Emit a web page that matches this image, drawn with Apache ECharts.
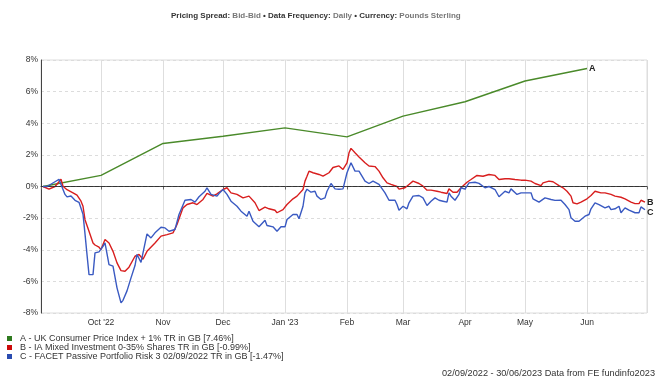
<!DOCTYPE html>
<html><head><meta charset="utf-8">
<script src="https://cdn.jsdelivr.net/npm/echarts@6/dist/echarts.min.js"></script>
<style>html,body{margin:0;padding:0;background:#fff}#c{width:660px;height:379px}</style>
</head><body><div id="c"></div>
<script>
const FONT = 'Liberation Sans, Arial, sans-serif';

const seriesNames = [
  'A - UK Consumer Price Index + 1% TR in GB [7.46%]',
  'B - IA Mixed Investment 0-35% Shares TR in GB [-0.99%]',
  'C - FACET Passive Portfolio Risk 3 02/09/2022 TR in GB [-1.47%]'
];
const endTags = ['A', 'B', 'C'];
const monthNums = [9, 10, 11, 0, 1, 2, 3, 4, 5];
const monthTickLabels = ["Oct '22", 'Nov', 'Dec', "Jan '23", 'Feb', 'Mar', 'Apr', 'May', 'Jun'];

const greenDates = ['2022-09-02','2022-10-01','2022-11-01','2022-12-01','2023-01-01','2023-02-01','2023-03-01','2023-04-01','2023-05-01','2023-06-01'];
const greenValues = [0, 0.7, 2.72, 3.18, 3.71, 3.14, 4.45, 5.36, 6.67, 7.46];

const redDates = ['2022-09-02','2022-09-03','2022-09-05','2022-09-08','2022-09-10','2022-09-11','2022-09-12','2022-09-14','2022-09-17','2022-09-19','2022-09-21','2022-09-22','2022-09-23','2022-09-25','2022-09-27','2022-09-28','2022-09-30',
'2022-10-01','2022-10-03','2022-10-05','2022-10-07','2022-10-09','2022-10-11','2022-10-13','2022-10-15','2022-10-16','2022-10-18','2022-10-20','2022-10-22','2022-10-24','2022-10-28','2022-10-31',
'2022-11-03','2022-11-06','2022-11-08','2022-11-11','2022-11-13','2022-11-16','2022-11-18','2022-11-21','2022-11-23','2022-11-26','2022-11-28',
'2022-12-01','2022-12-03','2022-12-05','2022-12-08','2022-12-11','2022-12-14','2022-12-17','2022-12-19','2022-12-22','2022-12-24','2022-12-27','2022-12-28','2022-12-31',
'2023-01-02','2023-01-05','2023-01-07','2023-01-10','2023-01-11','2023-01-12','2023-01-13','2023-01-15','2023-01-18','2023-01-20','2023-01-23','2023-01-25','2023-01-28','2023-01-30',
'2023-02-01','2023-02-02','2023-02-03','2023-02-05','2023-02-07','2023-02-08','2023-02-10','2023-02-12','2023-02-15','2023-02-17','2023-02-19','2023-02-21','2023-02-23','2023-02-26','2023-02-27',
'2023-03-02','2023-03-04','2023-03-06','2023-03-09','2023-03-11','2023-03-13','2023-03-15','2023-03-18','2023-03-20','2023-03-23','2023-03-24','2023-03-26','2023-03-28','2023-03-30',
'2023-04-02','2023-04-04','2023-04-07','2023-04-10','2023-04-13','2023-04-16','2023-04-18','2023-04-21','2023-04-23','2023-04-26','2023-04-29',
'2023-05-01','2023-05-04','2023-05-06','2023-05-09','2023-05-10','2023-05-13','2023-05-15','2023-05-18','2023-05-20','2023-05-22','2023-05-24','2023-05-25','2023-05-27','2023-05-29','2023-05-30',
'2023-06-01','2023-06-03','2023-06-05','2023-06-08','2023-06-10','2023-06-13','2023-06-15','2023-06-18','2023-06-20','2023-06-23','2023-06-25','2023-06-27','2023-06-28','2023-06-30'];
const redValues = [0,-0.08,-0.17,0,0.3,0.46,0.02,-0.2,-0.4,-0.55,-0.93,-1.25,-2.1,-2.83,-3.57,-3.7,-3.84,
-3.99,-3.35,-3.57,-4.1,-4.83,-5.32,-5.36,-5.1,-5.04,-4.41,-4.3,-4.6,-4.1,-3.57,-3.14,
-3.04,-2.93,-2.4,-1.35,-1.14,-1.03,-1.14,-0.82,-0.44,-0.61,-0.46,
-0.19,-0.08,-0.4,-0.5,-0.72,-0.61,-1.03,-1.52,-1.31,-1.41,-1.5,-1.66,-1.46,
-1.14,-0.78,-0.61,-0.19,0.34,0.65,0.97,0.87,0.76,0.65,0.87,1.2,1.3,1.08,
1.5,2.13,2.41,2.13,1.87,1.87,1.5,1.3,1.26,0.97,0.55,0.23,0.13,0,-0.17,
-0.08,0.13,0.34,0.19,0.02,-0.23,-0.23,-0.3,-0.36,-0.44,-0.15,-0.36,-0.36,-0.08,
0.27,0.44,0.7,0.65,0.76,0.7,0.44,0.49,0.49,0.44,0.4,
0.4,0.34,0.19,0.06,0.23,0.34,0.3,0.06,-0.08,-0.3,-0.61,-1.03,-1.1,-0.99,-0.93,
-0.78,-0.57,-0.3,-0.4,-0.4,-0.5,-0.61,-0.68,-0.78,-0.99,-1.08,-1.08,-0.87,-0.99];

const blueDates = ['2022-09-02','2022-09-04','2022-09-08','2022-09-10','2022-09-11','2022-09-13','2022-09-14','2022-09-16','2022-09-18','2022-09-20','2022-09-22','2022-09-23','2022-09-24','2022-09-25','2022-09-27','2022-09-28','2022-09-30',
'2022-10-02','2022-10-03','2022-10-05','2022-10-07','2022-10-09','2022-10-11','2022-10-12','2022-10-14','2022-10-16','2022-10-18','2022-10-19','2022-10-21','2022-10-24','2022-10-26','2022-10-28','2022-10-31',
'2022-11-02','2022-11-04','2022-11-07','2022-11-09','2022-11-12','2022-11-13','2022-11-15','2022-11-17','2022-11-19','2022-11-22','2022-11-23','2022-11-25','2022-11-28','2022-11-29',
'2022-12-01','2022-12-03','2022-12-05','2022-12-08','2022-12-10','2022-12-13','2022-12-14','2022-12-16','2022-12-19','2022-12-22','2022-12-23','2022-12-26','2022-12-28','2022-12-30',
'2023-01-01','2023-01-02','2023-01-05','2023-01-07','2023-01-08','2023-01-10','2023-01-11','2023-01-12','2023-01-14','2023-01-16','2023-01-17','2023-01-19','2023-01-21','2023-01-22','2023-01-24','2023-01-26','2023-01-28','2023-01-30',
'2023-02-01','2023-02-03','2023-02-05','2023-02-07','2023-02-08','2023-02-10','2023-02-12','2023-02-14','2023-02-17','2023-02-18','2023-02-20','2023-02-22','2023-02-23','2023-02-25','2023-02-26','2023-02-27',
'2023-03-01','2023-03-03','2023-03-04','2023-03-06','2023-03-09','2023-03-11','2023-03-13','2023-03-15','2023-03-17','2023-03-19','2023-03-21','2023-03-23','2023-03-24','2023-03-25','2023-03-27','2023-03-29','2023-03-30',
'2023-04-01','2023-04-03','2023-04-06','2023-04-08','2023-04-11','2023-04-13','2023-04-16','2023-04-18','2023-04-21','2023-04-23','2023-04-24','2023-04-27','2023-04-29',
'2023-05-02','2023-05-04','2023-05-05','2023-05-08','2023-05-09','2023-05-11','2023-05-14','2023-05-16','2023-05-19','2023-05-21','2023-05-23','2023-05-24','2023-05-26','2023-05-28','2023-05-29','2023-05-31',
'2023-06-02','2023-06-03','2023-06-05','2023-06-07','2023-06-08','2023-06-10','2023-06-12','2023-06-13','2023-06-15','2023-06-17','2023-06-18','2023-06-20','2023-06-22','2023-06-23','2023-06-25','2023-06-27','2023-06-28','2023-06-30'];
const blueValues = [0,0,0.3,0.45,0.4,-0.5,-0.66,-0.6,-0.87,-1.0,-1.75,-3.0,-4.3,-5.57,-5.57,-4.2,-4.13,
-3.78,-3.57,-4.94,-5.04,-6.41,-7.36,-7.2,-6.6,-5.78,-5.0,-4.3,-4.8,-3.0,-3.25,-2.93,-2.58,
-2.62,-2.83,-2.72,-1.77,-0.87,-0.93,-0.82,-0.99,-0.65,-0.3,-0.08,-0.5,-0.61,-0.44,
-0.19,-0.5,-0.93,-1.25,-1.56,-1.88,-1.56,-2.2,-2.55,-2.13,-2.47,-2.55,-2.83,-2.55,
-2.55,-2.09,-1.77,-1.77,-2.04,-1.25,-0.4,-0.17,-0.36,-0.3,-0.61,-0.82,-0.72,-0.3,0.19,-0.15,-0.17,-0.15,
0.87,1.5,0.97,0.97,0.9,0.34,0.19,0.34,0.13,0.23,-0.4,-0.87,-0.93,-0.87,-1.14,-1.5,
-1.25,-1.41,-1.03,-0.61,-0.57,-0.72,-1.2,-0.93,-0.72,-0.87,-0.93,-0.99,-0.4,-0.61,-0.87,-0.5,-0.08,
-0.17,0.23,0.27,0.2,-0.08,0,-0.19,-0.65,-0.3,-0.4,-0.15,-0.5,-0.4,
-0.4,-0.4,-0.78,-0.99,-0.99,-0.72,-0.82,-0.88,-0.87,-1.14,-1.46,-1.98,-2.2,-2.2,-2.13,-1.88,
-1.77,-1.41,-1.03,-1.14,-1.25,-1.35,-1.25,-1.46,-1.41,-1.25,-1.66,-1.35,-1.5,-1.5,-1.66,-1.66,-1.29,-1.47];

const zip = (d, v) => d.map((x, i) => [x, v[i]]);
const colors = ['#4a8a2a', '#d81e1e', '#3a5ac2'];
const legendColors = ['#2f7a1f', '#cc0a0a', '#2a4cb0'];
const DAY = 86400000;

function endLabel(tag) {
  return { show: true, formatter: tag, fontFamily: FONT, fontSize: 9, fontWeight: 'bold', color: '#222', distance: 2 };
}

const chart = echarts.init(document.getElementById('c'), null, { renderer: 'canvas' });
chart.setOption({
  animation: false,
  backgroundColor: '#fff',
  textStyle: { fontFamily: FONT },
  title: {
    left: 166, top: 7,
    text: '{b|Pricing Spread:} {n|Bid-Bid} {b|\u2022} {b|Data Frequency:} {n|Daily} {b|\u2022} {b|Currency:} {n|Pounds Sterling}',
    textStyle: {
      fontSize: 8,
      rich: {
        b: { fontFamily: FONT, fontSize: 8, fontWeight: 'bold', color: '#333' },
        n: { fontFamily: FONT, fontSize: 8, color: '#777' }
      }
    }
  },
  grid: { left: 41, right: 13, top: 60, bottom: 66, show: true, borderColor: '#dcdcdc', borderWidth: 1 },
  legend: {
    orient: 'vertical', left: 7, top: 334, itemWidth: 5, itemHeight: 5, itemGap: 0,
    icon: 'rect', selectedMode: false, padding: 0,
    textStyle: { fontFamily: FONT, fontSize: 9, lineHeight: 9, color: '#333', padding: [0, 0, 0, 3] },
    data: seriesNames.map((n, i) => ({ name: n, itemStyle: { color: legendColors[i] } }))
  },
  xAxis: {
    type: 'time',
    min: '2022-09-01', max: '2023-07-01',
    minInterval: 28 * DAY, maxInterval: 31 * DAY,
    axisLine: { lineStyle: { color: '#444', width: 1 } },
    axisTick: { show: true, length: 3, lineStyle: { color: '#666' } },
    axisLabel: {
      fontFamily: FONT, fontSize: 8.5, color: '#333', margin: 5,
      showMinLabel: false, showMaxLabel: false, hideOverlap: false,
      formatter: function (v) {
        const m = new Date(v).getMonth();
        const i = monthNums.indexOf(m);
        return i >= 0 ? monthTickLabels[i] : '';
      }
    },
    splitLine: { show: true, lineStyle: { color: '#dedede', width: 1 } }
  },
  yAxis: {
    type: 'value', min: -8, max: 8, interval: 2,
    axisLine: { show: true, lineStyle: { color: '#444', width: 1 } },
    axisTick: { show: false },
    axisLabel: { fontFamily: FONT, fontSize: 8.5, color: '#333', margin: 3, formatter: '{value}%' },
    splitLine: { show: true, lineStyle: { color: '#dcdcdc', type: [3, 3], width: 1 } }
  },
  series: [
    {
      name: seriesNames[0], type: 'line', data: zip(greenDates, greenValues),
      showSymbol: false, symbol: 'none', color: colors[0],
      lineStyle: { width: 1.4, color: colors[0] }, endLabel: endLabel(endTags[0]), z: 3
    },
    {
      name: seriesNames[1], type: 'line', data: zip(redDates, redValues),
      showSymbol: false, symbol: 'none', color: colors[1],
      lineStyle: { width: 1.4, color: colors[1] }, endLabel: endLabel(endTags[1]), z: 4,
      markLine: {
        silent: true, symbol: ['none', 'none'], label: { show: false },
        lineStyle: { color: '#333', type: [4, 2], width: 1 },
        data: [{ yAxis: 0 }]
      }
    },
    {
      name: seriesNames[2], type: 'line', data: zip(blueDates, blueValues),
      showSymbol: false, symbol: 'none', color: colors[2],
      lineStyle: { width: 1.4, color: colors[2] }, endLabel: Object.assign(endLabel(endTags[2]), { offset: [0, 3] }), z: 5
    }
  ],
  graphic: [{
    type: 'text', right: 5, top: 369,
    style: { text: '02/09/2022 - 30/06/2023 Data from FE fundinfo2023', fontFamily: FONT, fontSize: 9.2, fill: '#333' }
  }]
});
</script></body></html>
